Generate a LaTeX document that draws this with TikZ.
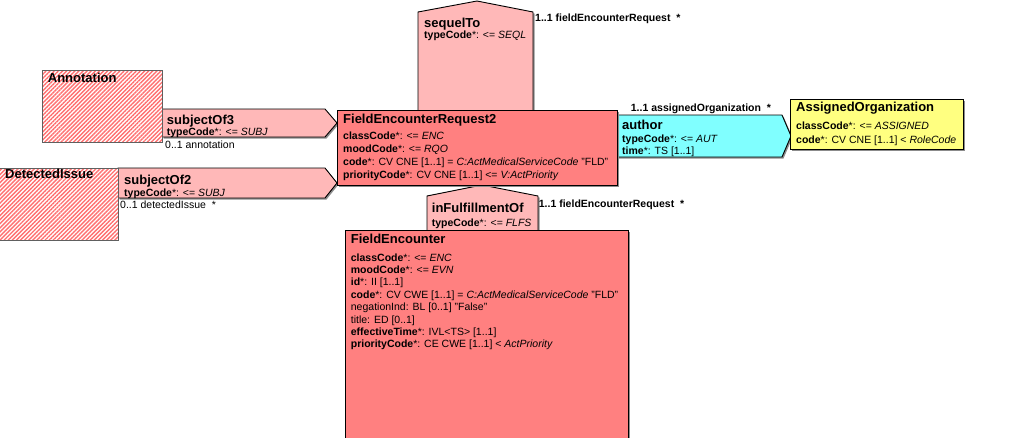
\documentclass[tikz,border=0pt]{standalone}
\usepackage{fontspec}
\setmainfont{Liberation Sans}
\usetikzlibrary{shadows,patterns.meta}
\definecolor{actred}{HTML}{FF8080}
\definecolor{relpink}{HTML}{FFB8B8}
\definecolor{partcyan}{HTML}{80FFFF}
\definecolor{roleyellow}{HTML}{FFFF80}
\definecolor{hatchred}{HTML}{FF7070}
\definecolor{hatchborder}{HTML}{606060}
\tikzset{
 shad/.style={drop shadow={shadow xshift=1.5pt,shadow yshift=-1.5pt,fill=black!45,opacity=1}},
 classbox/.style={draw=black, line width=0.9pt, anchor=north west, inner sep=0, shad},
 relshape/.style={draw=black, line width=0.9pt, fill=relpink, shad},
 hatchbox/.style={draw=hatchborder, line width=0.9pt, anchor=north west, inner sep=0,
   preaction={fill=white}, pattern={Lines[angle=45,distance=2.9pt,line width=1.4pt]}, pattern color=hatchred},
 ttl/.style={anchor=base west, inner sep=0, font=\fontsize{13}{15}\selectfont\bfseries},
 attr/.style={anchor=base west, inner sep=0, font=\fontsize{10.5}{12.5}\selectfont},
 lbl/.style={anchor=base west, inner sep=0, font=\fontsize{10.5}{12.5}\selectfont\bfseries},
}
\begin{document}
\begin{tikzpicture}[x=1pt,y=-1pt]
\useasboundingbox (0,0) rectangle (1028,437);
\fill[white] (0,0) rectangle (1028,437);

% act relationships and participation (pentagons)
\draw[relshape] (418,111) -- (418,12) -- (477,1) -- (533,12) -- (533,111) -- cycle;
\draw[relshape] (162,109) -- (325,109) -- (337,123) -- (325,137) -- (162,137) -- cycle;
\draw[relshape] (118,168) -- (325,168) -- (337,183) -- (325,198) -- (118,198) -- cycle;
\draw[relshape] (427,231) -- (427,196) -- (482,185) -- (538,196) -- (538,231) -- cycle;
\draw[relshape, fill=partcyan] (615,115) -- (782,115) -- (791,136) -- (782,157) -- (615,157) -- cycle;

% class boxes
\node[classbox, fill=actred, minimum width=280pt, minimum height=75pt] (fer2) at (337,110) {};
\node[classbox, fill=actred, minimum width=283pt, minimum height=215pt] (fe) at (345,230) {};
\node[classbox, fill=roleyellow, minimum width=173pt, minimum height=50pt] (ao) at (790,99) {};
\node[hatchbox, minimum width=120pt, minimum height=72pt] (annot) at (42,70) {};
\node[hatchbox, minimum width=128pt, minimum height=72pt] (di) at (-10,168) {};

% sequelTo
\node[ttl] (seqT) at (424,27.4) {sequelTo};
\node[attr] (seqA) at (424,38.8) {\textbf{typeCode}*: <= \textit{SEQL}};
\node[lbl] (seqL) at (535,21.1) {1..1 fieldEncounterRequest~ *};

% Annotation / subjectOf3
\node[ttl] (annotT) at (47.7,82) {Annotation};
\node[ttl] (s3T) at (166.7,124) {subjectOf3};
\node[attr] (s3A) at (166.7,135.5) {\textbf{typeCode}*: <= \textit{SUBJ}};
\node[attr] (s3L) at (165,148.8) {0..1 annotation};

% DetectedIssue / subjectOf2
\node[ttl] (diT) at (5,178) {DetectedIssue};
\node[ttl] (s2T) at (124,184.7) {subjectOf2};
\node[attr] (s2A) at (124,196.1) {\textbf{typeCode}*: <= \textit{SUBJ}};
\node[attr] (s2L) at (120,208.1) {0..1 detectedIssue~ *};

% FieldEncounterRequest2
\node[ttl] (fer2T) at (343,123) {FieldEncounterRequest2};
\node[attr] (fer2a) at (343,139.8) {\textbf{classCode}*: <= \textit{ENC}};
\node[attr] (fer2b) at (343,152.6) {\textbf{moodCode}*: <= \textit{RQO}};
\node[attr] (fer2c) at (343,165.4) {\textbf{code}*: CV CNE [1..1] = \textit{C:ActMedicalServiceCode} "FLD"};
\node[attr] (fer2d) at (343,178.2) {\textbf{priorityCode}*: CV CNE [1..1] <= \textit{V:ActPriority}};

% author / AssignedOrganization
\node[lbl] (auL) at (630.7,111.1) {1..1 assignedOrganization~ *};
\node[ttl] (auT) at (622,129.7) {author};
\node[attr] (auA) at (622,142.1) {\textbf{typeCode}*: <= \textit{AUT}};
\node[attr] (auB) at (622,154.8) {\textbf{time}*: TS [1..1]};
\node[ttl] (aoT) at (796,111.4) {AssignedOrganization};
\node[attr] (aoA) at (796,129.8) {\textbf{classCode}*: <= \textit{ASSIGNED}};
\node[attr] (aoB) at (796,143.1) {\textbf{code}*: CV CNE [1..1] < \textit{RoleCode}};

% inFulfillmentOf
\node[ttl] (ifT) at (431.7,212.4) {inFulfillmentOf};
\node[attr] (ifA) at (431.7,226.1) {\textbf{typeCode}*: <= \textit{FLFS}};
\node[lbl] (ifL) at (538.7,207.8) {1..1 fieldEncounterRequest~ *};

% FieldEncounter
\node[ttl] (feT) at (350.7,243) {FieldEncounter};
\node[attr] (fea) at (350.7,261.1) {\textbf{classCode}*: <= \textit{ENC}};
\node[attr] (feb) at (350.7,273.5) {\textbf{moodCode}*: <= \textit{EVN}};
\node[attr] (fec) at (350.7,285.9) {\textbf{id}*: II [1..1]};
\node[attr] (fed) at (350.7,298.3) {\textbf{code}*: CV CWE [1..1] = \textit{C:ActMedicalServiceCode} "FLD"};
\node[attr] (fee) at (350.7,310.7) {negationInd: BL [0..1] "False"};
\node[attr] (fef) at (350.7,323.1) {title: ED [0..1]};
\node[attr] (feg) at (350.7,335.5) {\textbf{effectiveTime}*: IVL<TS> [1..1]};
\node[attr] (feh) at (350.7,347.9) {\textbf{priorityCode}*: CE CWE [1..1] < \textit{ActPriority}};
\end{tikzpicture}
\end{document}
